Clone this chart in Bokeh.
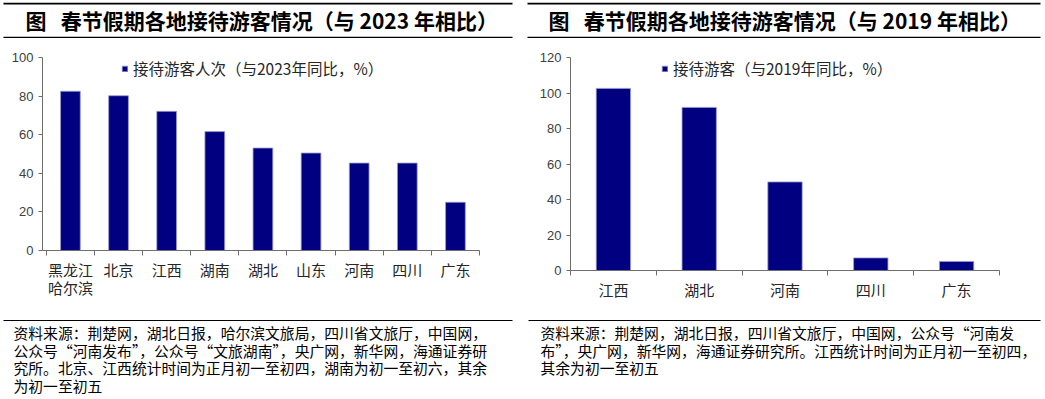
from bokeh.plotting import figure
from bokeh.models import Range1d, FixedTicker, Legend, LegendItem
from bokeh.layouts import row, column
from bokeh.core.properties import value
from bokeh.embed import file_html
from bokeh.resources import INLINE

# ---------------- data ----------------
left_title = "图\u00a0\u00a0\u00a0春节假期各地接待游客情况（与\u00a02023\u00a0年相比）"
right_title = "图\u00a0\u00a0\u00a0春节假期各地接待游客情况（与\u00a02019\u00a0年相比）"

left_cats = ["黑龙江\n哈尔滨", "北京", "江西", "湖南", "湖北", "山东", "河南", "四川", "广东"]
left_vals = [82.5, 80.2, 72.1, 61.6, 53.1, 50.5, 45.3, 45.3, 25.0]
left_series = "接待游客人次（与2023年同比，%）"
left_yticks = [0, 20, 40, 60, 80, 100]

right_cats = ["江西", "湖北", "河南", "四川", "广东"]
right_vals = [102.6, 91.9, 49.9, 7.1, 5.1]
right_series = "接待游客（与2019年同比，%）"
right_yticks = [0, 20, 40, 60, 80, 100, 120]

left_notes = [
    "资料来源：荆楚网，湖北日报，哈尔滨文旅局，四川省文旅厅，中国网，",
    "公众号“河南发布”，公众号“文旅湖南”，央广网，新华网，海通证券研",
    "究所。北京、江西统计时间为正月初一至初四，湖南为初一至初六，其余",
    "为初一至初五",
]
right_notes = [
    "资料来源：荆楚网，湖北日报，四川省文旅厅，中国网，公众号“河南发",
    "布”，央广网，新华网，海通证券研究所。江西统计时间为正月初一至初四，",
    "其余为初一至初五",
]

CJK = "Noto Sans CJK SC"
NUM = "Liberation Sans"
BAR = "#000080"
AXIS = "#6e6e6e"

W = 1045
TITLE_H, CHART_H, NOTE_H = 38, 274, 87
LW, RW = 520, 525


def blank(y0, h):
    # pixel-space figure: data x = page x, data y = page y
    p = figure(width=W, height=h, x_range=Range1d(0, W), y_range=Range1d(y0 + h, y0),
               x_axis_type=None, y_axis_type=None, toolbar_location=None,
               output_backend="svg", min_border=0)
    p.outline_line_color = None
    p.grid.visible = False
    return p


# ---- title strip ----
tf = blank(0, TITLE_H)
tf.segment(x0=[3, 527], y0=[3.2, 3.2], x1=[512, 1040], y1=[3.2, 3.2],
           line_color="black", line_width=1.8)
tf.segment(x0=[3, 527], y0=[37, 37], x1=[512, 1040], y1=[37, 37],
           line_color="black", line_width=1.3)
tf.text(x=[25, 548], y=[19.5, 19.5], text=[left_title, right_title], text_font=value(CJK),
        text_font_size="21px", text_font_style="bold", text_baseline="middle",
        text_align="left", text_color="black")

# ---- note strip ----
nf = blank(TITLE_H + CHART_H, NOTE_H)
nf.segment(x0=[3, 528], y0=[320, 320], x1=[512, 1040], y1=[320, 320],
           line_color="black", line_width=1.2)
ys = [332, 349.5, 367, 384.5]
nf.text(x=[13] * len(left_notes), y=ys[:len(left_notes)], text=left_notes,
        text_font=value(CJK), text_font_size="14.8px", text_baseline="middle",
        text_align="left", text_color="black")
nf.text(x=[540] * len(right_notes), y=ys[:len(right_notes)], text=right_notes,
        text_font=value(CJK), text_font_size="14.8px", text_baseline="middle",
        text_align="left", text_color="black")


def chart_fig(w, cats, vals, yticks, ymax, frame_h, bl, br, xstart, series, leg_x, bar_w):
    n = len(cats)
    top = 19
    bottom = CHART_H - top - frame_h
    p = figure(width=w, height=CHART_H, x_range=Range1d(xstart, n - 0.5),
               y_range=Range1d(0, ymax), toolbar_location=None, output_backend="svg",
               min_border_left=bl, min_border_right=br, min_border_top=top,
               min_border_bottom=bottom)
    p.outline_line_color = None
    p.grid.visible = False
    xs = list(range(n))
    r = p.vbar(x=xs, top=vals, width=bar_w, fill_color=BAR, line_color="#9a9ad0",
               line_width=0.8)

    xa = p.xaxis[0]
    xa.ticker = FixedTicker(ticks=xs, minor_ticks=[i - 0.5 for i in range(n + 1)])
    xa.major_label_overrides = {i: c for i, c in enumerate(cats)}
    xa.major_tick_line_color = None
    xa.major_tick_out = 0
    xa.major_tick_in = 0
    xa.minor_tick_out = 5
    xa.minor_tick_in = 0
    xa.minor_tick_line_color = AXIS
    xa.axis_line_color = AXIS
    xa.major_label_text_font = CJK
    xa.major_label_text_font_size = "15px"
    xa.major_label_text_color = "#262626"
    xa.major_label_text_line_height = 0.9
    xa.major_label_standoff = 3

    ya = p.yaxis[0]
    ya.ticker = FixedTicker(ticks=yticks)
    ya.minor_tick_line_color = None
    ya.major_tick_out = 4
    ya.major_tick_in = 0
    ya.major_tick_line_color = AXIS
    ya.axis_line_color = AXIS
    ya.major_label_text_font = NUM
    ya.major_label_text_font_size = "13px"
    ya.major_label_text_color = "#404040"
    ya.major_label_standoff = 5

    leg = Legend(items=[LegendItem(label=series, renderers=[r])],
                 location=(leg_x, frame_h - 22), orientation="vertical",
                 glyph_width=7, glyph_height=7, label_standoff=5, padding=0, margin=0,
                 border_line_color=None, background_fill_alpha=0,
                 label_text_font=CJK, label_text_font_size="15.5px",
                 label_text_color="#262626")
    p.add_layout(leg, "center")
    return p


lc = chart_fig(LW, left_cats, left_vals, left_yticks, 100, 193, 42, 41, -0.58,
               left_series, 79, 0.41)
rc = chart_fig(RW, right_cats, right_vals, right_yticks, 120, 213, 50, 46, -0.5,
               right_series, 91, 0.4)

layout = column(tf, row(column(lc), column(rc)), nf)

open("out.html", "w").write(file_html(layout, INLINE))
